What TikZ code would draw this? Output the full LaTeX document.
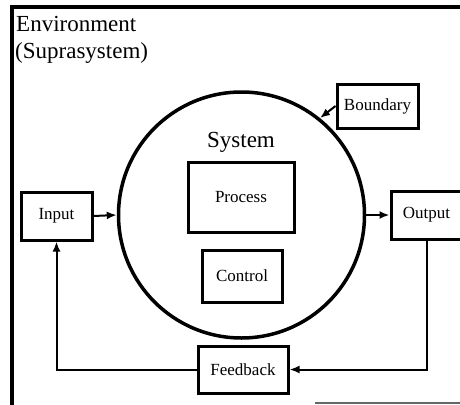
\documentclass[tikz,border=0pt]{standalone}
\usepackage{fontspec}
\setmainfont{Liberation Serif}
\usetikzlibrary{arrows.meta}
\begin{document}
\begin{tikzpicture}[x=1pt,y=-1pt,
  box/.style={draw,line width=3pt,inner sep=0pt,font=\fontsize{17}{20}\selectfont},
  conn/.style={line width=2pt},
  arr/.style={conn,-{Latex[length=10pt,width=8pt]}},
  big/.style={font=\fontsize{23}{27}\selectfont,inner sep=0pt}]
\useasboundingbox (0,0) rectangle (460,404);
\clip (0,0) rectangle (460,404);
% environment frame
\coordinate (envtl) at (12,7);
\coordinate (envtr) at (462,7);
\coordinate (envbl) at (12,406);
\draw[line width=3.2pt] (envtr) -- (envtl) -- (envbl);
\coordinate (bsa) at (315,403);
\coordinate (bsb) at (462,403);
\draw[line width=1.8pt,black!60] (bsa) -- (bsb);
\node[big,anchor=base west] (env1) at (16,32) {Environment};
\node[big,anchor=base west] (env2) at (15,59) {(Suprasystem)};
% system circle
\node[draw,circle,line width=3.5pt,minimum size=246pt,inner sep=0pt] (sys) at (241.5,215) {};
\node[big,anchor=base] (syslabel) at (241,147) {System};
\node[box,minimum width=106pt,minimum height=70pt] (proc) at (241,197) {Process};
\node[box,minimum width=80pt,minimum height=52pt] (ctrl) at (242,276) {Control};
\node[box,minimum width=71pt,minimum height=48pt] (inp) at (56.5,216) {Input};
\node[box,minimum width=71pt,minimum height=48pt] (outp) at (426.5,215) {Output};
\node[box,minimum width=81pt,minimum height=44pt] (bnd) at (377.5,106) {Boundary};
\node[box,minimum width=90pt,minimum height=47pt] (fb) at (243,369.5) {Feedback};
% connectors
\draw[arr] (inp.east) -- (sys.west);
\draw[arr] (sys.east) -- (outp.west);
\draw[arr] (bnd.west) -- (sys.51);
\draw[arr] (outp.south) |- (fb.east);
\draw[arr] (fb.west) -| (inp.south);
\end{tikzpicture}
\end{document}
